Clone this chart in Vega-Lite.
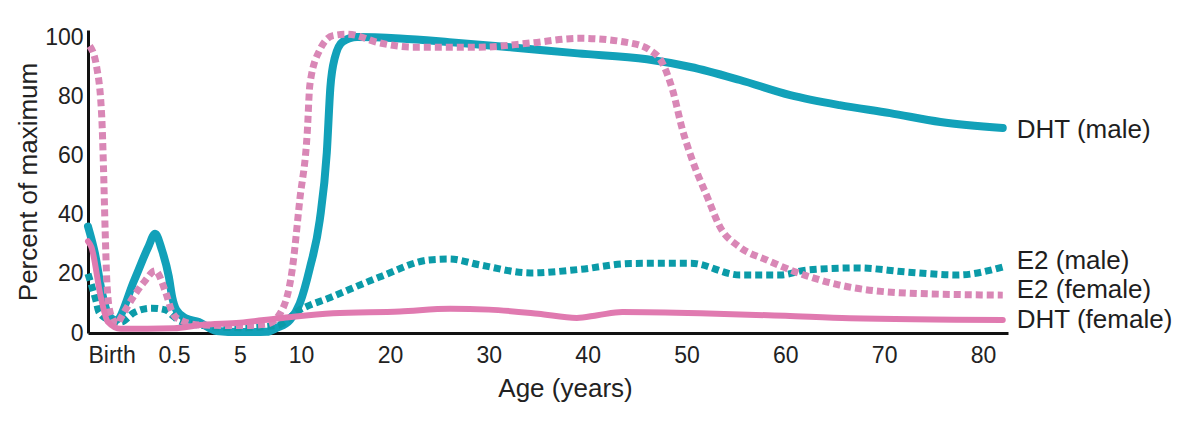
{
  "$schema": "https://vega.github.io/schema/vega-lite/v6.json",
  "autosize": "none",
  "width": 920,
  "height": 303,
  "padding": {"left": 88, "top": 30, "right": 192, "bottom": 89},
  "background": "white",
  "config": {
    "view": {"stroke": null},
    "font": "Liberation Sans",
    "axis": {"grid": false, "ticks": false, "domainColor": "#111111", "domainWidth": 3, "labelColor": "#222222", "titleColor": "#222222", "labelFont": "Liberation Sans", "titleFont": "Liberation Sans", "titleFontWeight": "normal"}
  },
  "data": {
    "values": [
      {"series": "DHT (male)", "age": 0, "value": 36},
      {"series": "DHT (male)", "age": 0.04, "value": 27},
      {"series": "DHT (male)", "age": 0.08, "value": 14},
      {"series": "DHT (male)", "age": 0.12, "value": 6},
      {"series": "DHT (male)", "age": 0.16, "value": 4.3},
      {"series": "DHT (male)", "age": 0.27, "value": 18},
      {"series": "DHT (male)", "age": 0.35, "value": 29},
      {"series": "DHT (male)", "age": 0.39, "value": 33.5},
      {"series": "DHT (male)", "age": 0.43, "value": 28},
      {"series": "DHT (male)", "age": 0.47, "value": 19},
      {"series": "DHT (male)", "age": 0.49, "value": 12},
      {"series": "DHT (male)", "age": 0.64, "value": 8},
      {"series": "DHT (male)", "age": 1.3, "value": 5},
      {"series": "DHT (male)", "age": 2.2, "value": 3.7},
      {"series": "DHT (male)", "age": 3.4, "value": 0.7},
      {"series": "DHT (male)", "age": 5, "value": 0.3},
      {"series": "DHT (male)", "age": 7.2, "value": 0.4},
      {"series": "DHT (male)", "age": 8.0, "value": 1.7},
      {"series": "DHT (male)", "age": 9.1, "value": 4.4},
      {"series": "DHT (male)", "age": 9.9, "value": 10},
      {"series": "DHT (male)", "age": 11.0, "value": 22},
      {"series": "DHT (male)", "age": 12.1, "value": 38},
      {"series": "DHT (male)", "age": 12.9, "value": 61},
      {"series": "DHT (male)", "age": 13.3, "value": 83},
      {"series": "DHT (male)", "age": 13.8, "value": 93},
      {"series": "DHT (male)", "age": 14.7, "value": 98.5},
      {"series": "DHT (male)", "age": 16.3, "value": 100},
      {"series": "DHT (male)", "age": 21, "value": 99.5},
      {"series": "DHT (male)", "age": 26, "value": 98.3},
      {"series": "DHT (male)", "age": 32.4, "value": 96.5},
      {"series": "DHT (male)", "age": 39, "value": 94.5},
      {"series": "DHT (male)", "age": 46, "value": 92.5},
      {"series": "DHT (male)", "age": 50.4, "value": 89.9},
      {"series": "DHT (male)", "age": 55.4, "value": 85.5},
      {"series": "DHT (male)", "age": 60.5, "value": 80.4},
      {"series": "DHT (male)", "age": 65.5, "value": 77},
      {"series": "DHT (male)", "age": 70.6, "value": 74.3},
      {"series": "DHT (male)", "age": 75.7, "value": 71.3},
      {"series": "DHT (male)", "age": 82, "value": 69.3},

      {"series": "E2 (male)", "age": 0, "value": 20},
      {"series": "E2 (male)", "age": 0.047, "value": 10.8},
      {"series": "E2 (male)", "age": 0.064, "value": 7},
      {"series": "E2 (male)", "age": 0.12, "value": 4.5},
      {"series": "E2 (male)", "age": 0.19, "value": 3.7},
      {"series": "E2 (male)", "age": 0.27, "value": 7},
      {"series": "E2 (male)", "age": 0.37, "value": 8.4},
      {"series": "E2 (male)", "age": 0.45, "value": 7.8},
      {"series": "E2 (male)", "age": 0.5, "value": 5.5},
      {"series": "E2 (male)", "age": 0.9, "value": 4},
      {"series": "E2 (male)", "age": 2.2, "value": 2.7},
      {"series": "E2 (male)", "age": 5, "value": 1.8},
      {"series": "E2 (male)", "age": 8, "value": 2.5},
      {"series": "E2 (male)", "age": 9.9, "value": 7.8},
      {"series": "E2 (male)", "age": 13.3, "value": 12},
      {"series": "E2 (male)", "age": 18.9, "value": 19},
      {"series": "E2 (male)", "age": 24, "value": 24.7},
      {"series": "E2 (male)", "age": 26, "value": 25},
      {"series": "E2 (male)", "age": 29.1, "value": 23},
      {"series": "E2 (male)", "age": 34.2, "value": 20.3},
      {"series": "E2 (male)", "age": 39.2, "value": 21.5},
      {"series": "E2 (male)", "age": 44.3, "value": 23.5},
      {"series": "E2 (male)", "age": 50.4, "value": 23.6},
      {"series": "E2 (male)", "age": 55.4, "value": 19.6},
      {"series": "E2 (male)", "age": 59.5, "value": 19.6},
      {"series": "E2 (male)", "age": 62.2, "value": 21.3},
      {"series": "E2 (male)", "age": 67.3, "value": 22},
      {"series": "E2 (male)", "age": 72.3, "value": 20.6},
      {"series": "E2 (male)", "age": 77.4, "value": 19.6},
      {"series": "E2 (male)", "age": 82, "value": 22.3},

      {"series": "E2 (female)", "age": 0.01, "value": 97},
      {"series": "E2 (female)", "age": 0.05, "value": 90},
      {"series": "E2 (female)", "age": 0.08, "value": 73},
      {"series": "E2 (female)", "age": 0.09, "value": 56},
      {"series": "E2 (female)", "age": 0.1, "value": 34},
      {"series": "E2 (female)", "age": 0.11, "value": 17},
      {"series": "E2 (female)", "age": 0.13, "value": 6.7},
      {"series": "E2 (female)", "age": 0.17, "value": 3},
      {"series": "E2 (female)", "age": 0.19, "value": 5},
      {"series": "E2 (female)", "age": 0.27, "value": 12.8},
      {"series": "E2 (female)", "age": 0.33, "value": 17.5},
      {"series": "E2 (female)", "age": 0.39, "value": 21},
      {"series": "E2 (female)", "age": 0.45, "value": 14},
      {"series": "E2 (female)", "age": 0.49, "value": 7},
      {"series": "E2 (female)", "age": 0.7, "value": 5},
      {"series": "E2 (female)", "age": 2.3, "value": 2.7},
      {"series": "E2 (female)", "age": 5, "value": 2.5},
      {"series": "E2 (female)", "age": 7.2, "value": 3},
      {"series": "E2 (female)", "age": 8.3, "value": 6.7},
      {"series": "E2 (female)", "age": 9.3, "value": 22},
      {"series": "E2 (female)", "age": 9.9, "value": 45},
      {"series": "E2 (female)", "age": 10.7, "value": 67.6},
      {"series": "E2 (female)", "age": 11.0, "value": 84},
      {"series": "E2 (female)", "age": 12.1, "value": 95.6},
      {"series": "E2 (female)", "age": 13.6, "value": 100.5},
      {"series": "E2 (female)", "age": 15.2, "value": 101},
      {"series": "E2 (female)", "age": 18.9, "value": 98},
      {"series": "E2 (female)", "age": 22.3, "value": 96.6},
      {"series": "E2 (female)", "age": 29.1, "value": 96.6},
      {"series": "E2 (female)", "age": 34.2, "value": 98},
      {"series": "E2 (female)", "age": 39.2, "value": 99.6},
      {"series": "E2 (female)", "age": 44.3, "value": 98},
      {"series": "E2 (female)", "age": 46.3, "value": 95.6},
      {"series": "E2 (female)", "age": 47.6, "value": 91},
      {"series": "E2 (female)", "age": 48.6, "value": 82},
      {"series": "E2 (female)", "age": 49.6, "value": 68.6},
      {"series": "E2 (female)", "age": 50.7, "value": 57.4},
      {"series": "E2 (female)", "age": 52.1, "value": 46},
      {"series": "E2 (female)", "age": 53.4, "value": 35.8},
      {"series": "E2 (female)", "age": 55.4, "value": 29},
      {"series": "E2 (female)", "age": 58.1, "value": 24.7},
      {"series": "E2 (female)", "age": 60.5, "value": 21.3},
      {"series": "E2 (female)", "age": 65.5, "value": 16.2},
      {"series": "E2 (female)", "age": 72.3, "value": 13.5},
      {"series": "E2 (female)", "age": 82, "value": 12.8},

      {"series": "DHT (female)", "age": 0, "value": 31},
      {"series": "DHT (female)", "age": 0.02, "value": 29},
      {"series": "DHT (female)", "age": 0.075, "value": 12},
      {"series": "DHT (female)", "age": 0.116, "value": 3.7},
      {"series": "DHT (female)", "age": 0.19, "value": 1.4},
      {"series": "DHT (female)", "age": 0.5, "value": 1.6},
      {"series": "DHT (female)", "age": 2.3, "value": 2.7},
      {"series": "DHT (female)", "age": 5, "value": 3.5},
      {"series": "DHT (female)", "age": 8.3, "value": 5.0},
      {"series": "DHT (female)", "age": 13.6, "value": 6.7},
      {"series": "DHT (female)", "age": 21, "value": 7.3},
      {"series": "DHT (female)", "age": 26.1, "value": 8.2},
      {"series": "DHT (female)", "age": 30, "value": 7.9},
      {"series": "DHT (female)", "age": 35, "value": 6.5},
      {"series": "DHT (female)", "age": 38.9, "value": 5.1},
      {"series": "DHT (female)", "age": 41, "value": 6},
      {"series": "DHT (female)", "age": 43.5, "value": 7.1},
      {"series": "DHT (female)", "age": 51.4, "value": 6.7},
      {"series": "DHT (female)", "age": 60, "value": 5.8},
      {"series": "DHT (female)", "age": 66.5, "value": 5},
      {"series": "DHT (female)", "age": 82, "value": 4.4}
    ]
  },
  "encoding": {
    "x": {
      "field": "age",
      "type": "quantitative",
      "scale": {"domain": [0, 0.5, 5, 10, 20, 80, 82.53], "range": [0, 86, 152, 213, 302, 895, 920], "nice": false, "zero": false},
      "axis": {
        "values": [0, 0.5, 5, 10, 20, 30, 40, 50, 60, 70, 80],
        "labelExpr": "datum.value === 0 ? 'Birth' : '' + datum.value",
        "labelAlign": {"condition": {"test": "datum.value === 0", "value": "left"}, "value": "center"},
        "labelFontSize": 23,
        "labelPadding": 11,
        "title": "Age (years)",
        "titleFontSize": 26,
        "titleX": 477,
        "titleY": 55,
        "titleBaseline": "middle",
        "titleAlign": "center"
      }
    },
    "y": {
      "field": "value",
      "type": "quantitative",
      "scale": {"domain": [0, 102.4], "nice": false, "zero": true},
      "axis": {
        "values": [0, 20, 40, 60, 80, 100],
        "labelFontSize": 23,
        "labelPadding": 5,
        "title": "Percent of maximum",
        "titleFontSize": 26,
        "titlePadding": 3
      }
    }
  },
  "layer": [
    {
      "transform": [{"filter": "datum.series === 'DHT (male)'"}],
      "mark": {"type": "line", "interpolate": "monotone", "color": "#12a1b9", "strokeWidth": 8, "strokeCap": "round"}
    },
    {
      "transform": [{"filter": "datum.series === 'E2 (male)'"}],
      "mark": {"type": "line", "interpolate": "monotone", "color": "#0b9ba8", "strokeWidth": 7, "strokeDash": [7, 4]}
    },
    {
      "transform": [{"filter": "datum.series === 'E2 (female)'"}],
      "mark": {"type": "line", "interpolate": "monotone", "color": "#d987b6", "strokeWidth": 7, "strokeDash": [7, 4]}
    },
    {
      "transform": [{"filter": "datum.series === 'DHT (female)'"}],
      "mark": {"type": "line", "interpolate": "monotone", "color": "#e07ab0", "strokeWidth": 6, "strokeCap": "round"}
    },
    {
      "data": {
        "values": [
          {"label": "DHT (male)", "age": 82, "value": 68.6},
          {"label": "E2 (male)", "age": 82, "value": 24.5},
          {"label": "E2 (female)", "age": 82, "value": 14.5},
          {"label": "DHT (female)", "age": 82, "value": 4.4}
        ]
      },
      "mark": {"type": "text", "align": "left", "baseline": "middle", "dx": 14, "fontSize": 26, "color": "#1e1e1e", "font": "Liberation Sans"},
      "encoding": {"text": {"field": "label"}}
    }
  ]
}
